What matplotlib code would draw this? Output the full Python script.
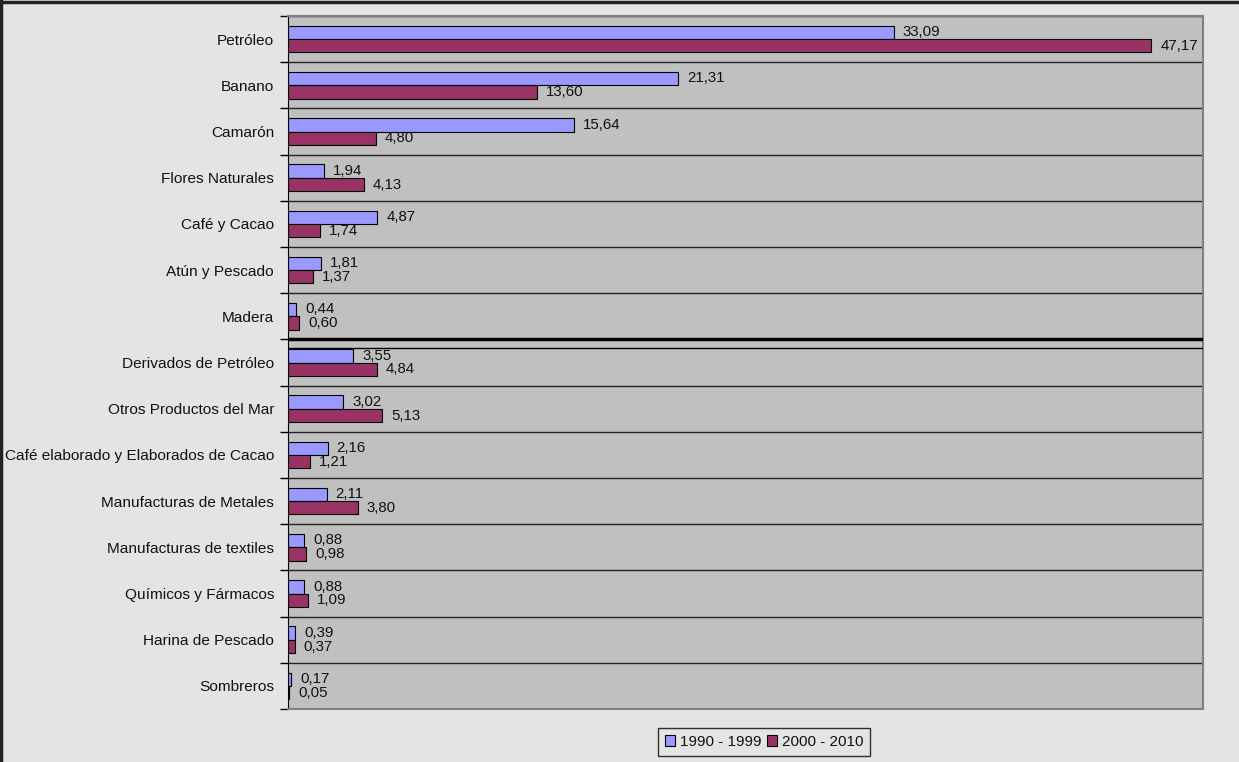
import matplotlib.pyplot as plt
import numpy as np
from matplotlib.lines import Line2D

plt.rcParams['font.family'] = ['Liberation Sans', 'DejaVu Sans']

productos = ['Petróleo', 'Banano', 'Camarón', 'Flores Naturales', 'Café y Cacao',
             'Atún y Pescado', 'Madera', 'Derivados de Petróleo',
             'Otros Productos del Mar', 'Café elaborado y Elaborados de Cacao',
             'Manufacturas de Metales', 'Manufacturas de textiles',
             'Químicos y Fármacos', 'Harina de Pescado', 'Sombreros']
periodo_1990_1999 = [33.09, 21.31, 15.64, 1.94, 4.87, 1.81, 0.44, 3.55,
                     3.02, 2.16, 2.11, 0.88, 0.88, 0.39, 0.17]
periodo_2000_2010 = [47.17, 13.60, 4.80, 4.13, 1.74, 1.37, 0.60, 4.84,
                     5.13, 1.21, 3.80, 0.98, 1.09, 0.37, 0.05]

azul = '#9999ff'
granate = '#993366'
fondo = '#e4e4e4'
texto = '#111111'

fig = plt.figure(figsize=(12.39, 7.62), dpi=100, facecolor=fondo)
ax = fig.add_axes([288 / 1239, 1 - 709 / 762, 915 / 1239, 693 / 762])
ax.set_facecolor('#c0c0c0')

y = np.arange(len(productos))
h = 0.29
b1 = ax.barh(y - 0.145, periodo_1990_1999, height=h, color=azul,
             edgecolor='black', linewidth=0.8, label='1990 - 1999')
b2 = ax.barh(y + 0.145, periodo_2000_2010, height=h, color=granate,
             edgecolor='black', linewidth=0.8, label='2000 - 2010')

def fmt(v):
    return f'{v:.2f}'.replace('.', ',')

for bar, v in zip(b1, periodo_1990_1999):
    ax.annotate(fmt(v), (v, bar.get_y() + bar.get_height() / 2),
                xytext=(6.5, 0.2), textcoords='offset points', va='center',
                ha='left', fontsize=10.8, color=texto)
for bar, v in zip(b2, periodo_2000_2010):
    ax.annotate(fmt(v), (v, bar.get_y() + bar.get_height() / 2),
                xytext=(6.5, -0.2), textcoords='offset points', va='center',
                ha='left', fontsize=10.8, color=texto)

ax.set_xlim(0, 50)
ax.set_ylim(len(productos) - 0.5, -0.5)
ax.set_xticks([])
ax.set_yticks(y)
ax.set_yticklabels(productos, fontsize=11.1, color=texto)
ax.tick_params(axis='y', which='major', length=0, pad=10)
ax.set_yticks(np.arange(-0.5, len(productos)), minor=True)
ax.tick_params(axis='y', which='minor', length=6, width=1, color='black')
ax.grid(axis='y', which='minor', color='#222222', linewidth=1)
ax.set_axisbelow(True)

# separation between primary and industrialised products
ax.axhline(6.5, color='black', linewidth=2.5, zorder=3)
ax.axhline(6.69, color='black', linewidth=1, zorder=3)

for s in ['top', 'right', 'bottom']:
    ax.spines[s].set_color('#808080')
    ax.spines[s].set_linewidth(1.5)
ax.spines['left'].set_color('black')

leg = fig.legend(loc='center', bbox_to_anchor=(764 / 1239, 1 - 742 / 762),
                 ncol=2, frameon=True, fontsize=11, handlelength=0.7,
                 handleheight=0.7, handletextpad=0.3, columnspacing=0.35,
                 borderpad=0.45, fancybox=False, borderaxespad=0)
leg.get_frame().set_edgecolor('black')
leg.get_frame().set_facecolor(fondo)
leg.get_frame().set_linewidth(1)
for t in leg.get_texts():
    t.set_color(texto)

# outer frame, top and left edges
fig.add_artist(Line2D([0.001, 0.001], [0, 1], color='#222222', linewidth=2.5,
                      transform=fig.transFigure))
fig.add_artist(Line2D([0, 1], [0.998, 0.998], color='#222222', linewidth=2.5,
                      transform=fig.transFigure))

fig.savefig('out.png', dpi=100, facecolor=fondo)
